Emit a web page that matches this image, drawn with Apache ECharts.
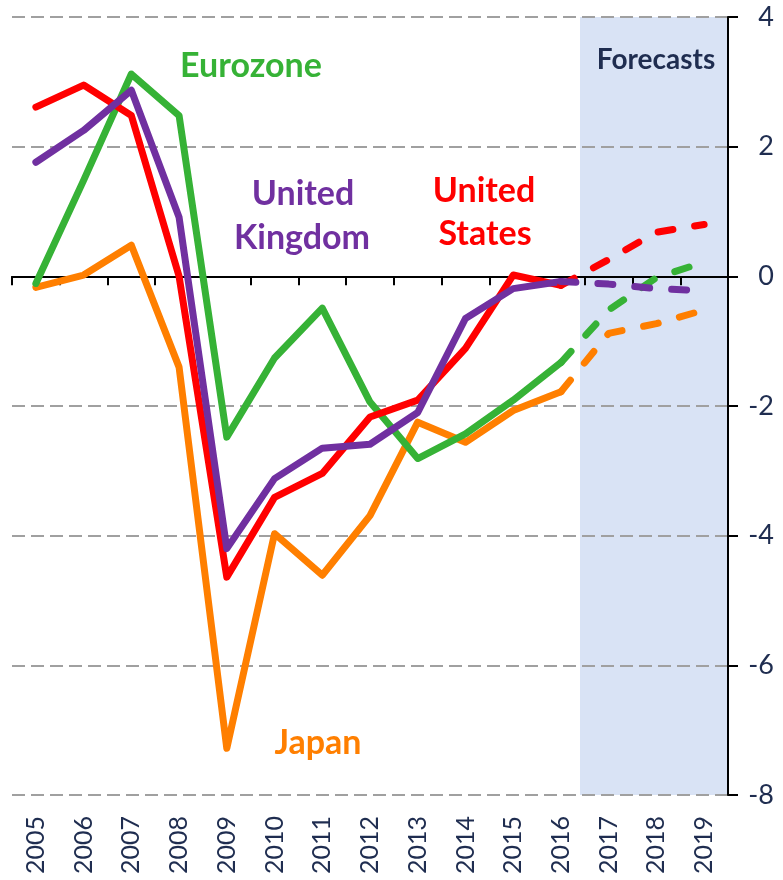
<!DOCTYPE html>
<html>
<head>
<meta charset="utf-8">
<script src="https://cdn.jsdelivr.net/npm/echarts@6/dist/echarts.min.js"></script>
<style>
  html, body { margin: 0; padding: 0; background: #fff; }
  #chart { width: 783px; height: 880px; }
</style>
</head>
<body>
<div id="chart"></div>
<script>
// output gaps, % — actual to 2016, forecasts 2016-2019
const years = ['2005', '2006', '2007', '2008', '2009', '2010', '2011', '2012', '2013', '2014', '2015', '2016', '2017', '2018', '2019'];
const pad = ['-', '-', '-', '-', '-', '-', '-', '-', '-', '-', '-'];

const usActual = [2.61, 2.95, 2.48, 0.0, -4.64, -3.41, -3.04, -2.17, -1.91, -1.11, 0.02, -0.14];
const usForecast = [-0.14, 0.26, 0.68, 0.80];
const ezActual = [-0.11, 1.48, 3.12, 2.48, -2.48, -1.26, -0.49, -1.94, -2.81, -2.43, -1.91, -1.33];
const ezForecast = [-1.33, -0.52, -0.02, 0.22];
const ukActual = [1.76, 2.25, 2.87, 0.91, -4.20, -3.12, -2.65, -2.59, -2.10, -0.65, -0.19, -0.08];
const ukForecast = [-0.08, -0.12, -0.19, -0.22];
const jpActual = [-0.17, 0.02, 0.48, -1.40, -7.28, -3.97, -4.61, -3.69, -2.25, -2.56, -2.07, -1.78];
const jpForecast = [-1.78, -0.88, -0.73, -0.52];

// forecast band, in category index units
const shadeStart = 11.4;
const shadeEnd = 14.5;

const navy = '#1f2d50';
const font = 'Lato';

function solid(name, color, data) {
  return {
    name: name, type: 'line', xAxisIndex: 0, data: data, z: 3,
    symbol: 'none', lineStyle: { color: color, width: 7, cap: 'round', join: 'round' }
  };
}
function dashed(name, color, data) {
  return {
    name: name, type: 'line', xAxisIndex: 0, data: pad.concat(data), z: 3,
    symbol: 'none', lineStyle: { color: color, width: 7, type: [15, 22], cap: 'round', join: 'round' }
  };
}

const chart = echarts.init(document.getElementById('chart'));
chart.setOption({
  animation: false,
  textStyle: { fontFamily: font },
  grid: { left: 12, right: 55, top: 17, bottom: 85 },
  xAxis: [
    {
      type: 'category', data: years, boundaryGap: true, position: 'bottom', z: 2,
      axisLine: { onZero: true, lineStyle: { color: '#000', width: 2 } },
      axisTick: { show: true, length: 9, lineStyle: { color: '#000', width: 2 } },
      axisLabel: { show: false },
      splitLine: { show: false }
    },
    {
      type: 'category', data: years, boundaryGap: true, position: 'bottom',
      axisLine: { show: false, onZero: false },
      axisTick: { show: false },
      axisLabel: { rotate: 90, interval: 0, fontSize: 25, color: navy, margin: 21, fontFamily: font },
      splitLine: { show: false }
    },
    { type: 'value', min: -0.5, max: 14.5, show: false }
  ],
  yAxis: {
    type: 'value', position: 'right', min: -8, max: 4, interval: 2, z: 2,
    axisLine: { show: true, onZero: false, lineStyle: { color: '#000', width: 2 } },
    axisTick: { show: true, length: 10, lineStyle: { color: '#000', width: 2 } },
    axisLabel: { fontSize: 27, color: navy, align: 'right', margin: 46, fontFamily: font },
    splitLine: { show: true, lineStyle: { color: '#a0a0a0', width: 2, type: [13, 6] } }
  },
  series: [
    {
      name: 'shade', type: 'line', xAxisIndex: 2, data: [], z: 1,
      markArea: {
        silent: true,
        itemStyle: { color: '#d9e3f5' },
        data: [[{ xAxis: shadeStart }, { xAxis: shadeEnd }]]
      }
    },
    solid('Japan', '#ff7f00', jpActual),
    solid('Eurozone', '#36b236', ezActual),
    solid('United States', '#ff0000', usActual),
    solid('United Kingdom', '#7030a0', ukActual),
    dashed('Japan f', '#ff7f00', jpForecast),
    dashed('Eurozone f', '#36b236', ezForecast),
    dashed('United States f', '#ff0000', usForecast),
    dashed('United Kingdom f', '#7030a0', ukForecast)
  ],
  graphic: [
    { type: 'text', x: 251, y: 66, z: 10, style: { text: 'Eurozone', fill: '#36b236', font: 'bold 34px Lato', textAlign: 'center', textVerticalAlign: 'middle' } },
    { type: 'text', x: 303, y: 194, z: 10, style: { text: 'United', fill: '#7030a0', font: 'bold 34px Lato', textAlign: 'center', textVerticalAlign: 'middle' } },
    { type: 'text', x: 302, y: 238, z: 10, style: { text: 'Kingdom', fill: '#7030a0', font: 'bold 34px Lato', textAlign: 'center', textVerticalAlign: 'middle' } },
    { type: 'text', x: 484, y: 191, z: 10, style: { text: 'United', fill: '#ff0000', font: 'bold 34px Lato', textAlign: 'center', textVerticalAlign: 'middle' } },
    { type: 'text', x: 485, y: 234, z: 10, style: { text: 'States', fill: '#ff0000', font: 'bold 34px Lato', textAlign: 'center', textVerticalAlign: 'middle' } },
    { type: 'text', x: 318, y: 743, z: 10, style: { text: 'Japan', fill: '#ff7f00', font: 'bold 34px Lato', textAlign: 'center', textVerticalAlign: 'middle' } },
    { type: 'text', x: 656, y: 60, z: 10, style: { text: 'Forecasts', fill: navy, font: 'bold 28px Lato', textAlign: 'center', textVerticalAlign: 'middle' } }
  ]
});
</script>
</body>
</html>
